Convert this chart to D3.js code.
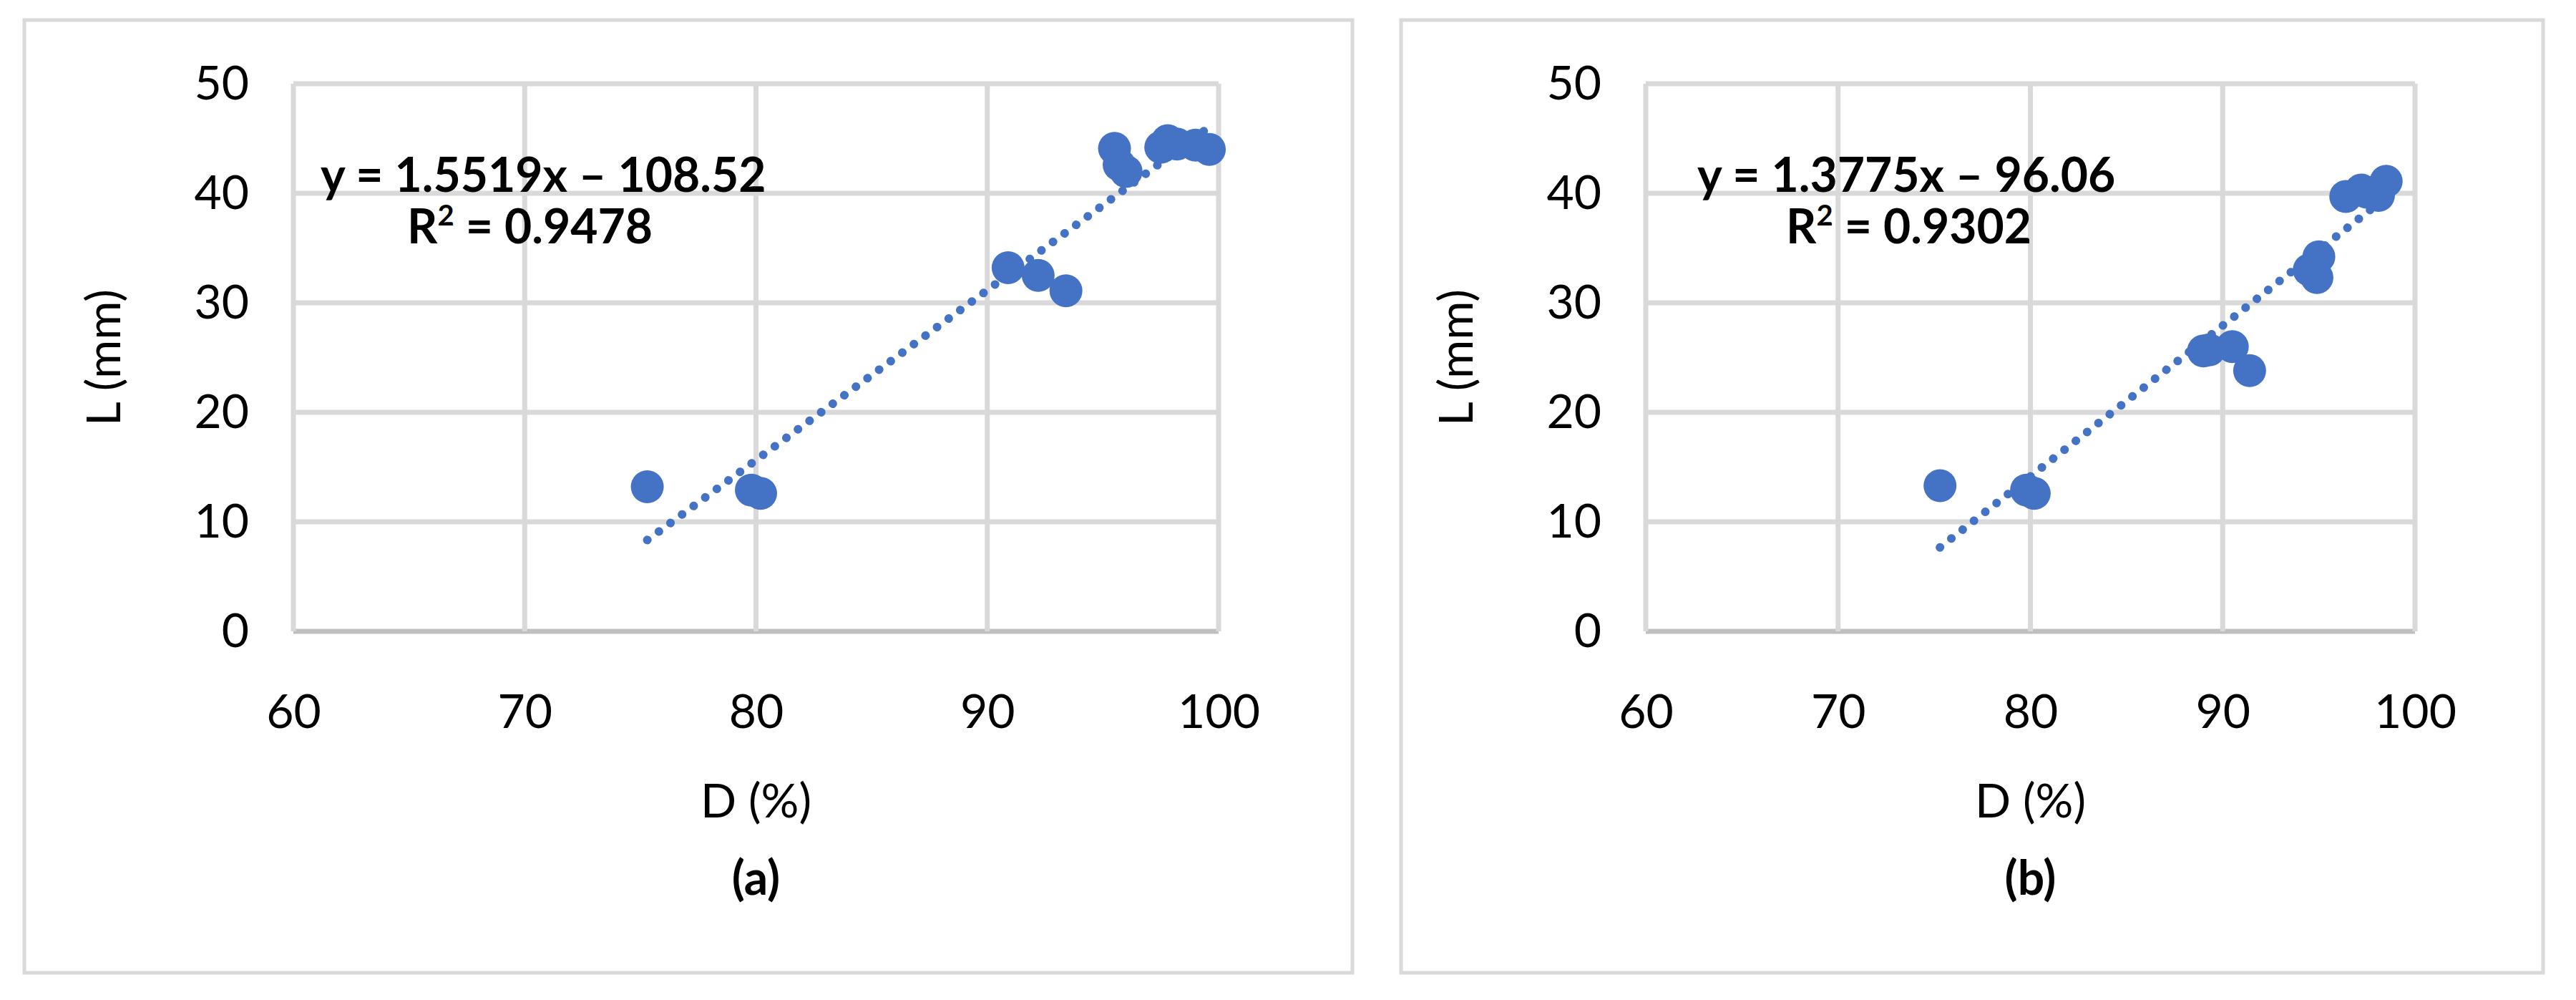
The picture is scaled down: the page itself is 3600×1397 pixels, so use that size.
<!DOCTYPE html><html><head><meta charset="utf-8"><script src="https://cdn.jsdelivr.net/npm/d3@7"></script>
<style>body{margin:0;background:#fff}</style></head><body><svg id="c" width="3600" height="1397"></svg><script>
const xTicks=[60,70,80,90,100], yTicks=[0,10,20,30,40,50];
const aD=[75.3,79.8,80.2,90.9,92.2,93.4,95.5,95.7,96.0,97.5,97.8,98.2,99.0,99.6];
const aL=[13.2,12.9,12.6,33.2,32.5,31.1,44.1,42.6,42.0,44.2,44.8,44.5,44.4,44.0];
const bD=[75.3,79.8,80.2,89.0,89.3,90.5,91.4,94.5,94.9,95.0,96.4,97.2,97.5,98.1,98.5];
const bL=[13.3,12.9,12.6,25.6,25.7,26.0,23.8,33.0,32.3,34.2,39.7,40.3,40.1,39.8,41.1];
const panels=[
 {D:aD,L:aL,slope:1.5519,icpt:-108.52,eq:"y = 1.5519x – 108.52",r2:"0.9478",lab:"(a)",box:[34,28,1856,1331],x0:410,x1:1703,eqx:448,r2x:569},
 {D:bD,L:bL,slope:1.3775,icpt:-96.06,eq:"y = 1.3775x – 96.06",r2:"0.9302",lab:"(b)",box:[1958,28,1596,1331],x0:2300,x1:3375,eqx:2372,r2x:2496}];
const svg=d3.select("#c"), F="Lato,'Open Sans',sans-serif", blue="#4472c4", FS=66;
panels.forEach(p=>{
 const g=svg.append("g");
 g.append("rect").attr("x",p.box[0]).attr("y",p.box[1]).attr("width",p.box[2]).attr("height",p.box[3]).attr("fill","none").attr("stroke","#d9d9d9").attr("stroke-width",5);
 const x=d3.scaleLinear().domain([60,100]).range([p.x0,p.x1]);
 const y=d3.scaleLinear().domain([0,50]).range([882,117]);
 yTicks.forEach(t=>g.append("line").attr("x1",p.x0).attr("x2",p.x1).attr("y1",y(t)).attr("y2",y(t)).attr("stroke",t==0?"#bfbfbf":"#d9d9d9").attr("stroke-width",7));
 xTicks.forEach(t=>g.append("line").attr("x1",x(t)).attr("x2",x(t)).attr("y1",y(0)).attr("y2",y(50)).attr("stroke","#d9d9d9").attr("stroke-width",7));
 const xa=g.append("g").attr("transform",`translate(0,${y(0)})`).call(d3.axisBottom(x).tickValues(xTicks).tickSize(0).tickPadding(88));
 const ya=g.append("g").attr("transform",`translate(${p.x0},0)`).call(d3.axisLeft(y).tickValues(yTicks).tickSize(0).tickPadding(62));
 [xa,ya].forEach(a=>{a.select(".domain").remove();a.selectAll("text").attr("font-family",F).attr("font-size",FS).attr("fill","#000");});
 const xmin=d3.min(p.D), xmax=d3.max(p.D);
 g.append("line").attr("x1",x(xmin)).attr("x2",x(xmax)).attr("y1",y(p.slope*xmin+p.icpt)).attr("y2",y(p.slope*xmax+p.icpt))
  .attr("stroke",blue).attr("stroke-width",12).attr("stroke-linecap","round").attr("stroke-dasharray","0.1 20");
 g.selectAll("circle").data(p.D).join("circle").attr("cx",d=>x(d)).attr("cy",(d,i)=>y(p.L[i])).attr("r",23).attr("fill",blue);
 g.append("text").attr("x",p.eqx).attr("y",268).attr("font-family",F).attr("font-weight","bold").attr("font-size",FS).text(p.eq);
 const r=g.append("text").attr("x",p.r2x).attr("y",340).attr("font-family",F).attr("font-weight","bold").attr("font-size",FS);
 r.append("tspan").text("R");r.append("tspan").attr("font-size",40).attr("dy",-25).text("2");r.append("tspan").attr("dy",25).text(" = "+p.r2);
 const cx=(p.x0+p.x1)/2;
 g.append("text").attr("x",cx).attr("y",1142).attr("text-anchor","middle").attr("font-family",F).attr("font-size",FS).text("D (%)");
 g.append("text").attr("x",cx).attr("y",1250).attr("text-anchor","middle").attr("font-family",F).attr("font-weight","bold").attr("font-size",FS).text(p.lab);
 g.append("text").attr("transform",`translate(${p.x0-265},${y(25)}) rotate(-90)`).attr("text-anchor","middle").attr("dy","0.35em").attr("font-family",F).attr("font-size",FS).text("L (mm)");
});
</script></body></html>
